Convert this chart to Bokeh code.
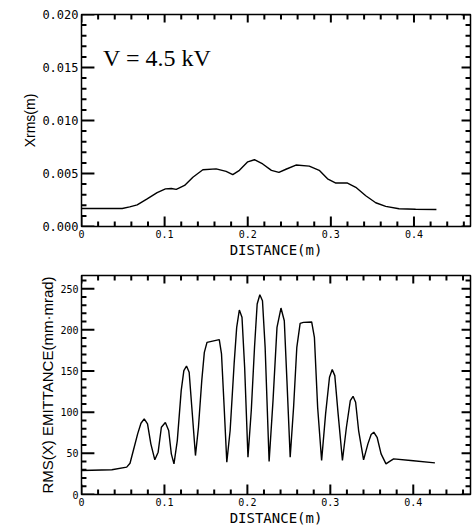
from bokeh.plotting import figure
from bokeh.models import Range1d, FixedTicker, Label, NumeralTickFormatter, ColumnDataSource
from bokeh.layouts import column
from bokeh.embed import file_html
from bokeh.resources import INLINE

# --- data: top panel (Xrms vs distance) ---
dist_top = [0.0, 0.030, 0.049, 0.058, 0.067, 0.079, 0.091, 0.101, 0.108, 0.114, 0.124,
            0.134, 0.146, 0.162, 0.174, 0.182, 0.190, 0.200, 0.208, 0.218, 0.2285,
            0.2375, 0.246, 0.258, 0.274, 0.286, 0.296, 0.306, 0.320, 0.330, 0.342,
            0.354, 0.366, 0.382, 0.402, 0.427]
xrms = [0.0017, 0.0017, 0.0017, 0.00185, 0.00204, 0.0026, 0.0032, 0.00355, 0.00358, 0.0035, 0.00387,
        0.00465, 0.00535, 0.00544, 0.0052, 0.0049, 0.0053, 0.0061, 0.0063, 0.0059, 0.0053,
        0.0051, 0.0054, 0.0058, 0.0057, 0.0053, 0.0045, 0.0041, 0.0041, 0.0037, 0.0029,
        0.00224, 0.0019, 0.00167, 0.00163, 0.0016]

# --- data: bottom panel (RMS emittance vs distance) ---
dist_bot = [0.0, 0.0366, 0.0545, 0.0585, 0.0625, 0.0677, 0.0717, 0.0756, 0.0796, 0.0836,
            0.0884, 0.0924, 0.0963, 0.1011, 0.1051, 0.1083, 0.1115, 0.1155, 0.1202, 0.1234,
            0.1266, 0.1298, 0.1330, 0.1374, 0.1410, 0.1450, 0.1481, 0.1513, 0.1661, 0.1688,
            0.1720, 0.1752, 0.1792, 0.1840, 0.1871, 0.1903, 0.1935, 0.1967, 0.2007, 0.2047,
            0.2086, 0.2118, 0.2150, 0.2182, 0.2214, 0.2262, 0.2309, 0.2357, 0.2405, 0.2445,
            0.2477, 0.2516, 0.2557, 0.2596, 0.2636, 0.2676, 0.2775, 0.2808, 0.2847, 0.2895,
            0.2943, 0.2990, 0.3023, 0.3054, 0.3094, 0.3146, 0.3194, 0.3241, 0.3274, 0.3305,
            0.3341, 0.3401, 0.3453, 0.3492, 0.3524, 0.3564, 0.3612, 0.3671, 0.3711, 0.3763,
            0.3970, 0.4261]
emit = [29.1, 30.0, 33.2, 38.0, 53.4, 73.6, 86.5, 91.8, 85.8, 61.5,
        42.1, 51.4, 81.7, 87.4, 77.7, 49.4, 37.2, 65.5, 126.2, 150.5,
        156.1, 148.5, 106.0, 47.3, 81.7, 138.3, 172.7, 184.8, 188.1, 170.7,
        106.0, 39.2, 77.7, 158.6, 203.0, 224.1, 215.2, 154.5, 45.3, 102.0,
        178.8, 231.4, 242.7, 235.4, 178.8, 40.0, 114.0, 203.0, 226.5, 211.0,
        138.0, 45.3, 106.0, 178.8, 207.9, 209.1, 209.6, 190.9, 106.0, 41.3,
        97.9, 142.4, 151.7, 144.4, 97.9, 41.3, 81.7, 114.0, 119.3, 112.0,
        77.7, 42.1, 61.5, 72.8, 75.6, 69.5, 49.4, 37.2, 40.0, 43.3,
        41.3, 38.4]

x_ticks = [0, 0.1, 0.2, 0.3, 0.4]
x_minor = [round(i * 0.02, 2) for i in range(0, 24)]
top_y_ticks = [0, 0.005, 0.010, 0.015, 0.020]
top_y_minor = [round(i * 0.001, 3) for i in range(0, 21)]
bot_y_ticks = [0, 50, 100, 150, 200, 250]
bot_y_minor = [i * 10 for i in range(0, 27)]

TICK_FONT = "DejaVu Sans Mono"
LABEL_FONT = "Liberation Sans"


def style_axis(ax, font_size):
    ax.axis_line_color = "black"
    ax.major_tick_in = 0
    ax.major_tick_out = 0
    ax.minor_tick_in = 0
    ax.minor_tick_out = 0
    ax.major_tick_line_color = None
    ax.minor_tick_line_color = None
    ax.major_label_text_font = TICK_FONT
    ax.major_label_text_font_size = font_size
    ax.major_label_text_color = "black"
    ax.major_label_standoff = 3
    ax.axis_label_text_font = LABEL_FONT
    ax.axis_label_text_font_style = "normal"
    ax.axis_label_text_color = "black"
    ax.axis_label_standoff = 1


def inner_ticks(p, xr, yr, xt, xm, yt, ym, fw, fh):
    """Inward-pointing tick marks on all four frame sides, placed at the tick values."""
    dx = (xr[1] - xr[0]) / fw
    dy = (yr[1] - yr[0]) / fh
    x0, x1, y0, y1 = [], [], [], []

    def add_x(vals, lb, lt):
        for v in vals:
            x0.extend([v, v]); x1.extend([v, v])
            y0.extend([yr[0], yr[1]]); y1.extend([yr[0] + lb * dy, yr[1] - lt * dy])

    def add_y(vals, ll, lr):
        for v in vals:
            y0.extend([v, v]); y1.extend([v, v])
            x0.extend([xr[0], xr[1]]); x1.extend([xr[0] + ll * dx, xr[1] - lr * dx])

    add_x(xt, 10, 8)
    add_x([m for m in xm if all(abs(m - t) > 1e-9 for t in xt)], 5, 5)
    add_y(yt, 13, 9)
    add_y([m for m in ym if all(abs(m - t) > 1e-9 for t in yt)], 5, 5)
    src = ColumnDataSource(dict(x0=x0, y0=y0, x1=x1, y1=y1))
    p.segment(x0="x0", y0="y0", x1="x1", y1="y1", source=src,
              line_color="black", line_width=2)


def make_fig(width, height, xr, yr, yticks, yminor, borders, yfont):
    p = figure(width=width, height=height, x_range=Range1d(*xr), y_range=Range1d(*yr),
               output_backend="svg", toolbar_location=None,
               min_border_left=borders[0], min_border_right=borders[1],
               min_border_top=borders[2], min_border_bottom=borders[3])
    p.xgrid.visible = False
    p.ygrid.visible = False
    p.outline_line_color = "black"
    p.outline_line_width = 1.5
    p.background_fill_color = "white"
    p.border_fill_color = "white"
    bottom = p.below[0]
    left = p.left[0]
    bottom.ticker = FixedTicker(ticks=x_ticks, minor_ticks=x_minor)
    left.ticker = FixedTicker(ticks=yticks, minor_ticks=yminor)
    style_axis(bottom, "10px")
    style_axis(left, yfont)
    bottom.major_label_overrides = {0: "0"}
    fw = width - borders[0] - borders[1]
    fh = height - borders[2] - borders[3]
    inner_ticks(p, xr, yr, x_ticks, x_minor, yticks, yminor, fw, fh)
    return p, bottom, left


# top panel
p1, b1, l1 = make_fig(473, 262, (0, 0.468), (0, 0.020),
                      top_y_ticks, top_y_minor, (81, 1, 14, 36), "12px")
p1.line(dist_top, xrms, line_color="black", line_width=1.4)
l1.formatter = NumeralTickFormatter(format="0.000")
b1.axis_label = "DISTANCE(m)"
b1.axis_label_text_font = "DejaVu Sans Mono"
b1.axis_label_text_font_size = "14px"
l1.axis_label = "Xrms(m)"
l1.axis_label_text_font_size = "14px"
p1.add_layout(Label(x=0.026, y=0.0159, text="V = 4.5 kV",
                    text_font="Liberation Serif", text_font_size="24px",
                    text_color="black", text_baseline="alphabetic"))

# bottom panel
p2, b2, l2 = make_fig(473, 266, (0, 0.469), (0, 266),
                      bot_y_ticks, bot_y_minor, (78, 3, 13, 34), "10px")
p2.line(dist_bot, emit, line_color="black", line_width=1.4)
b2.axis_label = "DISTANCE(m)"
b2.axis_label_text_font = "DejaVu Sans Mono"
b2.axis_label_text_font_size = "14px"
l2.axis_label = "RMS(X) EMITTANCE(mm\u00b7mrad)"
l2.axis_label_text_font_size = "15px"

layout = column(p1, p2, spacing=0)
open("out.html", "w").write(file_html(layout, INLINE))
